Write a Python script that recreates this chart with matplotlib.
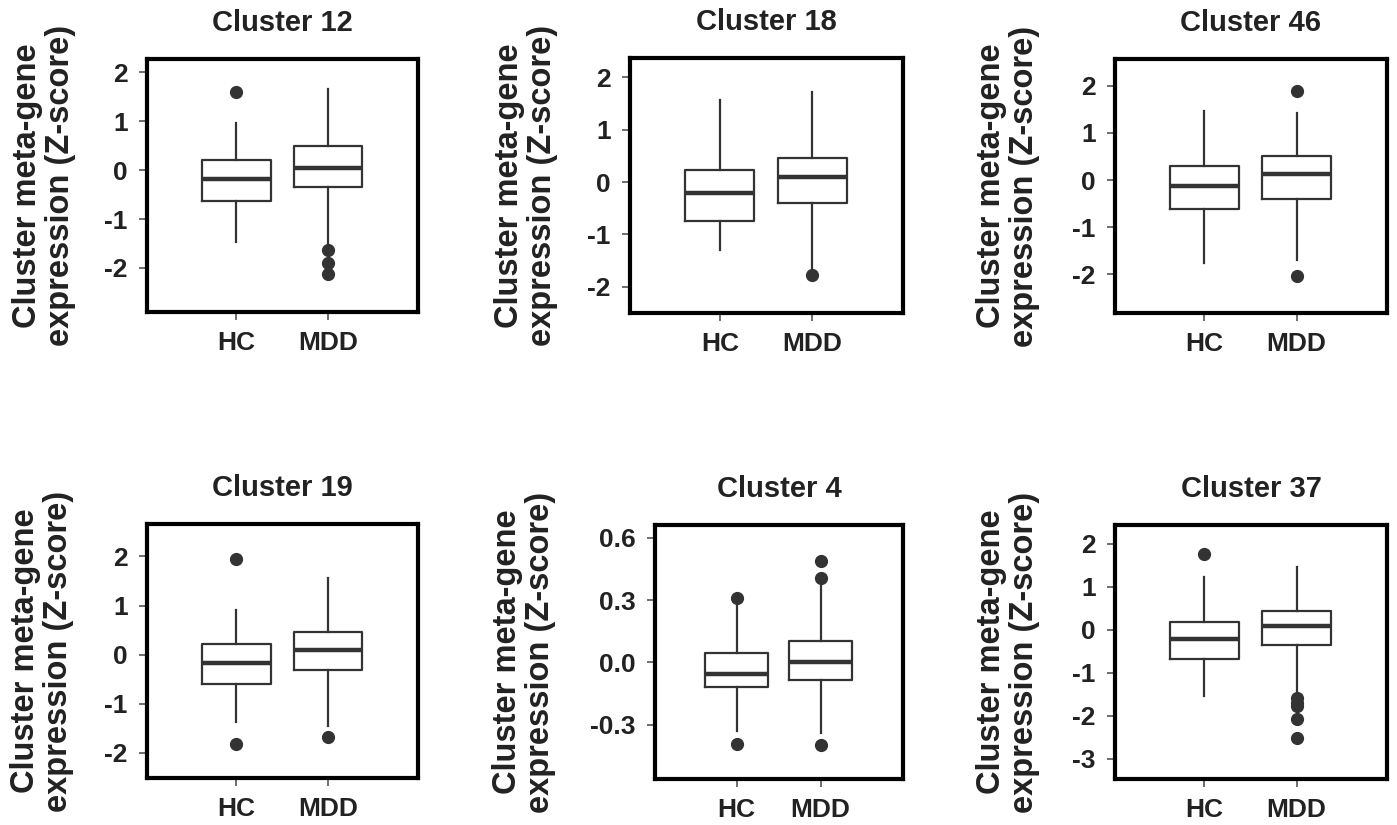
import matplotlib
matplotlib.use("Agg")
import matplotlib.pyplot as plt

plt.rcParams['font.family'] = ['Liberation Sans', 'DejaVu Sans']

# ---- data ----
titles = ["Cluster 12", "Cluster 18", "Cluster 46", "Cluster 19", "Cluster 4", "Cluster 37"]
groups = ["HC", "MDD"]

q1     = [[-0.63, -0.34], [-0.75, -0.40], [-0.62, -0.40], [-0.60, -0.32], [-0.117, -0.085], [-0.68, -0.35]]
median = [[-0.19, 0.05], [-0.20, 0.10], [-0.13, 0.14], [-0.17, 0.09], [-0.058, 0.003], [-0.21, 0.09]]
q3     = [[0.20, 0.49], [0.23, 0.46], [0.30, 0.52], [0.22, 0.46], [0.043, 0.104], [0.19, 0.45]]
whislo = [[-1.47, -1.57], [-1.29, -1.70], [-1.75, -1.69], [-1.38, -1.46], [-0.332, -0.338], [-1.55, -1.55]]
whishi = [[0.96, 1.65], [1.57, 1.73], [1.47, 1.42], [0.91, 1.56], [0.272, 0.372], [1.24, 1.47]]
fliers = [
    [[1.59], [-1.63, -1.90, -2.12]],
    [[], [-1.78]],
    [[], [1.90, -2.04]],
    [[1.95, -1.81], [-1.68]],
    [[0.308, -0.393], [0.489, 0.407, -0.397]],
    [[1.76], [-1.59, -1.70, -1.78, -2.08, -2.52]],
]
yticks = [
    [-2, -1, 0, 1, 2],
    [-2, -1, 0, 1, 2],
    [-2, -1, 0, 1, 2],
    [-2, -1, 0, 1, 2],
    [-0.3, 0.0, 0.3, 0.6],
    [-3, -2, -1, 0, 1, 2],
]
yticklabels = [
    ["-2", "-1", "0", "1", "2"],
    ["-2", "-1", "0", "1", "2"],
    ["-2", "-1", "0", "1", "2"],
    ["-2", "-1", "0", "1", "2"],
    ["-0.3", "0.0", "0.3", "0.6"],
    ["-3", "-2", "-1", "0", "1", "2"],
]
ylims = [(-2.9, 2.27), (-2.5, 2.37), (-2.82, 2.57), (-2.51, 2.66), (-0.561, 0.661), (-3.47, 2.44)]
ylabel = "Cluster meta-gene\nexpression (Z-score)"

# ---- layout (figure fractions) ----
W, H = 1397, 825
rects_px = [  # left, top, right, bottom in pixels
    (147, 59, 418, 312),
    (630, 58, 903, 313),
    (1115, 59, 1387, 313),
    (147, 524, 418, 778),
    (655, 525, 903, 779),
    (1115, 525, 1387, 779),
]
ylabel_x_px = [76, 558, 1040, 74, 556, 1040]

fig = plt.figure(figsize=(W / 100, H / 100), dpi=100)
dark = "#333333"

for i, (l, t, r, b) in enumerate(rects_px):
    ax = fig.add_axes([l / W, 1 - b / H, (r - l) / W, (b - t) / H])
    stats = []
    for g in range(2):
        stats.append(dict(label=groups[g], q1=q1[i][g], med=median[i][g], q3=q3[i][g],
                          whislo=whislo[i][g], whishi=whishi[i][g], fliers=fliers[i][g]))
    ax.bxp(stats, positions=[1, 2], widths=0.75, showcaps=False, patch_artist=False,
           boxprops=dict(color=dark, linewidth=1.6),
           whiskerprops=dict(color=dark, linewidth=1.6),
           medianprops=dict(color=dark, linewidth=3.2),
           flierprops=dict(marker='o', markerfacecolor=dark, markeredgecolor=dark,
                           markersize=8.5))
    ax.set_xlim(0.03, 2.98)
    ax.set_ylim(*ylims[i])
    ax.set_yticks(yticks[i])
    ax.set_yticklabels(yticklabels[i])
    ax.set_xticks([1, 2])
    ax.set_xticklabels(groups)
    for sp in ax.spines.values():
        sp.set_linewidth(3.0)
        sp.set_color("black")
    ax.tick_params(axis='both', direction='out', length=6, width=1.2, color="#555555",
                   labelsize=19, labelcolor="#222222", pad=8)
    for lab in ax.get_xticklabels() + ax.get_yticklabels():
        lab.set_fontweight('bold')
    ax.set_title(titles[i], fontsize=21, fontweight='bold', color="#222222", pad=20)
    ax.set_ylabel(ylabel, fontsize=23.5, fontweight='bold', color="#222222",
                  linespacing=1.1)
    ax.yaxis.set_label_coords((ylabel_x_px[i] - l) / (r - l), 0.5)

fig.savefig("out.png", dpi=100, facecolor="white")
